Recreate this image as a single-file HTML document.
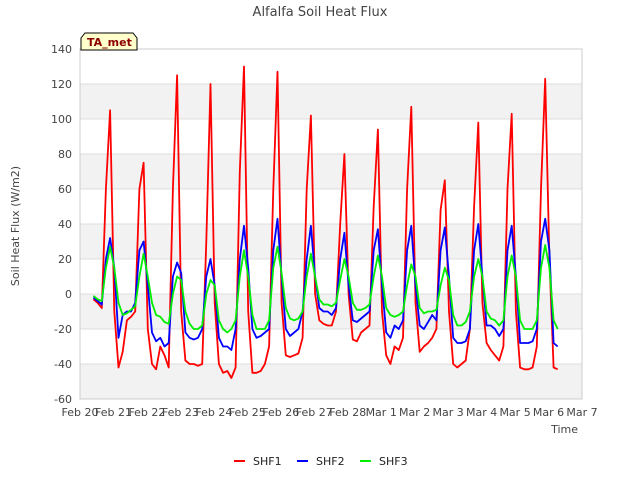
<!DOCTYPE html>
<html><head><meta charset="utf-8"><style>
body{margin:0;background:#fff;font-family:"Liberation Sans","DejaVu Sans",sans-serif}
svg text{font-family:"DejaVu Sans","Liberation Sans",sans-serif}
</style></head><body>
<svg id="c" width="640" height="480" xmlns="http://www.w3.org/2000/svg">
<rect width="640" height="480" fill="#fff"/>
<text x="320" y="16" text-anchor="middle" font-size="13" fill="#444">Alfalfa Soil Heat Flux</text>
<g id="plot"></g>
<g id="axes"></g>
<g id="lines"></g>
<g>
<path d="M81,50 L81,38 L85,33 L133,33 L137,38 L137,50 Z" fill="#ffffcc" stroke="#000" stroke-width="1"/>
<text x="87" y="46" font-size="11" font-weight="bold" fill="#8b0000">TA_met</text>
</g>
<text transform="translate(19,226) rotate(-90)" text-anchor="middle" font-size="11" fill="#444">Soil Heat Flux (W/m2)</text>
<text x="578" y="433" text-anchor="end" font-size="11" fill="#444">Time</text>
<g>
<g><line x1="234" y1="461" x2="245" y2="461" stroke="#ff0000" stroke-width="2"/><text x="253" y="465" font-size="11" fill="#222">SHF1</text></g>
<g><line x1="297" y1="461" x2="308" y2="461" stroke="#0000ff" stroke-width="2"/><text x="316" y="465" font-size="11" fill="#222">SHF2</text></g>
<g><line x1="360" y1="461" x2="371" y2="461" stroke="#00ee00" stroke-width="2"/><text x="379" y="465" font-size="11" fill="#222">SHF3</text></g>
</g>
</svg>
<script>
const xTickLabels=["Feb 20","Feb 21","Feb 22","Feb 23","Feb 24","Feb 25","Feb 26","Feb 27","Feb 28","Mar 1","Mar 2","Mar 3","Mar 4","Mar 5","Mar 6","Mar 7"];
const yTicks=[-60,-40,-20,0,20,40,60,80,100,120,140];
const startDay=0.4;
const stepDay=0.125;
const shf1=[-3,-5,-8,60,105,-10,-42,-33,-15,-13,-10,60,75,-20,-40,-43,-30,-35,-42,60,125,-10,-38,-40,-40,-41,-40,30,120,-5,-40,-45,-44,-48,-42,70,130,-10,-45,-45,-44,-40,-30,60,127,-5,-35,-36,-35,-34,-25,60,102,0,-15,-17,-18,-18,-10,40,80,0,-26,-27,-22,-20,-18,50,94,-10,-35,-40,-30,-32,-25,60,107,-5,-33,-30,-28,-25,-20,48,65,-10,-40,-42,-40,-38,-20,50,98,-5,-28,-32,-35,-38,-30,60,103,-10,-42,-43,-43,-42,-30,60,123,20,-42,-43];
const shf2=[-2,-4,-6,20,32,15,-25,-12,-10,-10,-5,25,30,5,-22,-27,-25,-30,-28,10,18,12,-22,-25,-26,-25,-20,10,20,5,-25,-30,-30,-32,-20,20,39,15,-20,-25,-24,-22,-20,25,43,10,-20,-24,-22,-20,-10,20,39,10,-8,-10,-10,-12,-8,20,35,5,-15,-16,-14,-12,-10,25,37,5,-22,-25,-18,-20,-15,25,39,5,-18,-20,-16,-12,-15,25,38,10,-25,-28,-28,-27,-20,25,40,10,-18,-18,-20,-24,-20,25,39,10,-28,-28,-28,-27,-20,30,43,25,-28,-30];
const shf3=[-1,-3,-4,15,27,15,-5,-12,-11,-9,-7,10,23,10,-5,-12,-13,-16,-17,0,10,8,-10,-17,-20,-20,-18,0,8,5,-15,-20,-22,-20,-15,10,25,10,-12,-20,-20,-20,-15,15,27,12,-8,-14,-15,-14,-10,10,23,10,-3,-6,-6,-7,-5,8,20,10,-5,-9,-9,-8,-6,10,22,10,-8,-12,-13,-12,-10,5,17,10,-8,-11,-10,-10,-9,5,15,8,-12,-18,-18,-16,-10,10,20,10,-10,-14,-15,-18,-15,10,22,10,-15,-20,-20,-20,-15,15,28,15,-15,-20];
const X0=80,X1=582,Y0=399,Y1=49;
const xs=d=>X0+(X1-X0)*d/15;
const ys=v=>Y0-(v+60)*(Y0-Y1)/200;
const NS="http://www.w3.org/2000/svg";
function mk(p,t,a){const e=document.createElementNS(NS,t);for(const k in a)e.setAttribute(k,a[k]);p.appendChild(e);return e;}
const plot=document.getElementById('plot'),axes=document.getElementById('axes'),lines=document.getElementById('lines');
const bg=mk(plot,'rect',{x:X0,y:Y1,width:X1-X0,height:Y0-Y1,fill:'#fff',stroke:'#ddd'});
for(let i=0;i<yTicks.length-1;i++){
  if(i%2===0){const b=mk(plot,'rect',{x:X0,y:ys(yTicks[i+1]),width:X1-X0,height:ys(yTicks[i])-ys(yTicks[i+1]),fill:'#f2f2f2'});
  
  }
}
yTicks.forEach(v=>{
  const g=mk(axes,'line',{x1:X0,x2:X1,y1:ys(v),y2:ys(v),stroke:'#ddd','stroke-width':1});
  
  
  const t=mk(axes,'text',{x:X0-8,y:ys(v)+4,'text-anchor':'end','font-size':11,fill:'#444'});
  t.textContent=v;
  
  
});
xTickLabels.forEach((l,i)=>{
  const t=mk(axes,'text',{x:xs(i),y:416,'text-anchor':'middle','font-size':11,fill:'#444'});
  t.textContent=l;
  
  
});
mk(axes,'rect',{x:X0,y:Y1,width:X1-X0,height:Y0-Y1,fill:'none',stroke:'#ccc'});
[[shf1,'#ff0000','series-shf1'],[shf2,'#0000ff','series-shf2'],[shf3,'#00ee00','series-shf3']].forEach(([arr,c,n])=>{
  const pts=arr.map((v,i)=>xs(startDay+i*stepDay).toFixed(1)+','+ys(v).toFixed(1)).join(' ');
  const p=mk(lines,'polyline',{points:pts,fill:'none',stroke:c,'stroke-width':1.8,'stroke-linejoin':'round'});
  
  
});
</script>
</body></html>
